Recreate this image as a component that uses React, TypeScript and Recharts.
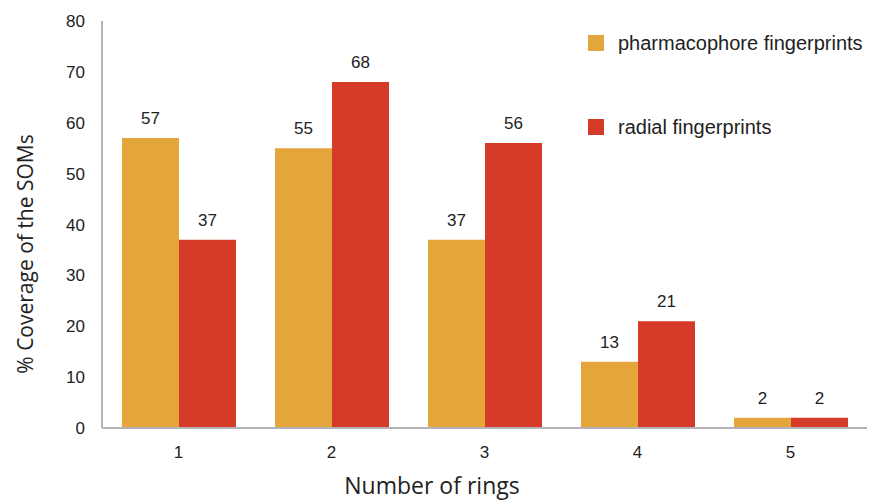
import React from 'react';
import { BarChart, Bar, XAxis, YAxis, LabelList, Label } from 'recharts';

const rings = ['1', '2', '3', '4', '5'];
const pharmacophore = [57, 55, 37, 13, 2];
const radial = [37, 68, 56, 21, 2];
const yTicks = [0, 10, 20, 30, 40, 50, 60, 70, 80];

const ORANGE = '#E4A63A';
const RED = '#D63A28';

const data = rings.map((r, i) => ({
  rings: r,
  pharmacophore: pharmacophore[i],
  radial: radial[i],
}));

const tickStyle = { fill: '#222', fontSize: 17, fontFamily: 'Liberation Sans, Arial, sans-serif' };

// legend sits over the plot's top-right corner, so it is laid out outside recharts
const LegendBox = () => (
  <div
    style={{
      position: 'absolute',
      left: 588,
      top: 32,
      fontFamily: 'Liberation Sans, Arial, sans-serif',
      fontSize: 20,
      color: '#222',
    }}
  >
    <div style={{ display: 'flex', alignItems: 'center', height: 22 }}>
      <span style={{ width: 16, height: 16, background: ORANGE, marginRight: 14 }} />
      pharmacophore fingerprints
    </div>
    <div style={{ display: 'flex', alignItems: 'center', height: 22, marginTop: 62 }}>
      <span style={{ width: 16, height: 16, background: RED, marginRight: 14 }} />
      radial fingerprints
    </div>
  </div>
);

const YTitle = () => {
  const cx = 25;
  const cy = 254;
  return (
    <text
      x={cx}
      y={cy}
      transform={`rotate(-90 ${cx} ${cy})`}
      textAnchor="middle"
      dominantBaseline="central"
      fill="#222"
      fontSize={21}
      fontFamily="Open Sans, sans-serif"
    >
      % Coverage of the SOMs
    </text>
  );
};

const XTitle = () => (
  <text x={432} y={494} textAnchor="middle" fill="#222" fontSize={23} fontFamily="Open Sans, sans-serif">
    Number of rings
  </text>
);

export default function App() {
  return (
    <div style={{ position: 'absolute', left: 0, top: 0, width: 873, height: 501, background: '#fff' }}>
      <BarChart
        width={873}
        height={501}
        data={data}
        margin={{ top: 21, right: 6, left: 0, bottom: 0 }}
        barCategoryGap={20}
        barGap={0}
      >
        <XAxis
          dataKey="rings"
          height={73}
          tick={tickStyle}
          tickLine={false}
          tickMargin={12}
          axisLine={{ stroke: '#b4b4b8', strokeWidth: 2 }}
        >
          <Label content={<XTitle />} />
        </XAxis>
        <YAxis
          width={102}
          domain={[0, 80]}
          ticks={yTicks}
          tick={tickStyle}
          tickLine={false}
          tickMargin={11}
          axisLine={{ stroke: '#b4b4b8', strokeWidth: 2 }}
        >
          <Label content={<YTitle />} />
        </YAxis>
        <Bar dataKey="pharmacophore" fill={ORANGE} isAnimationActive={false}>
          <LabelList dataKey="pharmacophore" position="top" offset={14} style={tickStyle} />
        </Bar>
        <Bar dataKey="radial" fill={RED} isAnimationActive={false}>
          <LabelList dataKey="radial" position="top" offset={14} style={tickStyle} />
        </Bar>
      </BarChart>
      <LegendBox />
    </div>
  );
}
